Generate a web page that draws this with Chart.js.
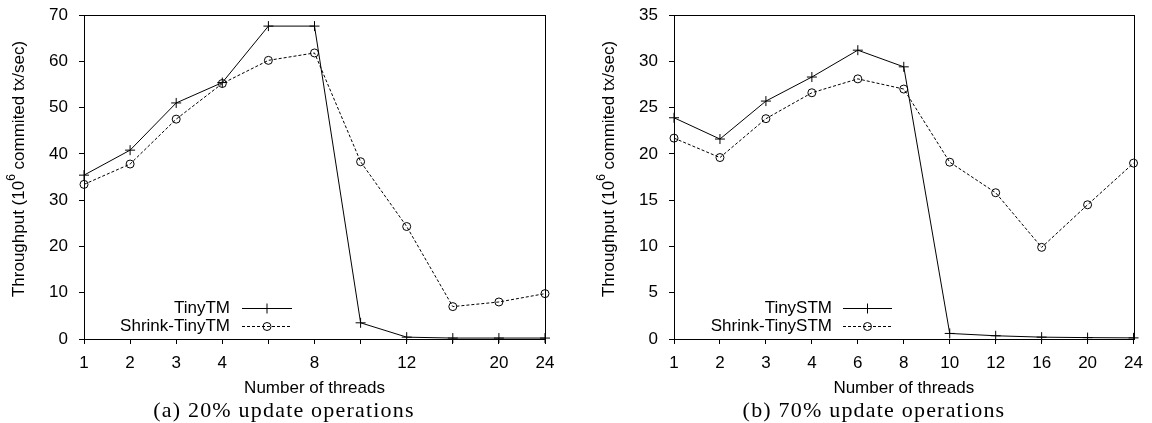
<!DOCTYPE html>
<html>
<head>
<meta charset="utf-8">
<script src="https://cdn.jsdelivr.net/npm/chart.js@4"></script>
<style>
  body { margin: 0; background: #fff; width: 1152px; height: 423px; overflow: hidden; position: relative; }
  canvas { position: absolute; top: 0; }
  .cap { position: absolute; top: 397px; font: 22px "Liberation Serif", serif; letter-spacing: 1.2px;
         transform: translateX(-50%); white-space: nowrap; color: #000; }
</style>
</head>
<body>
<canvas id="chartA" width="576" height="423" style="left:0"></canvas>
<canvas id="chartB" width="576" height="423" style="left:576px"></canvas>
<div class="cap" style="left:284px">(a) 20% update operations</div>
<div class="cap" style="left:874px">(b) 70% update operations</div>
<script>
// Data
const threads = ['1', '2', '3', '4', '6', '8', '10', '12', '16', '20', '24'];
const ticksA = ['1', '2', '3', '4', '', '8', '', '12', '', '20', '24'];
const ticksB = ['1', '2', '3', '4', '6', '8', '10', '12', '16', '20', '24'];

const tinyTM = [35.4, 40.8, 51.0, 55.4, 67.6, 67.6, 3.5, 0.4, 0.2, 0.2, 0.2];
const shrinkTinyTM = [33.4, 37.8, 47.5, 55.2, 60.2, 61.8, 38.3, 24.3, 7.0, 8.0, 9.8];
const tinySTM = [23.9, 21.6, 25.7, 28.3, 31.2, 29.4, 0.6, 0.35, 0.2, 0.15, 0.12];
const shrinkTinySTM = [21.7, 19.6, 23.8, 26.6, 28.1, 27.0, 19.1, 15.8, 9.9, 14.5, 19.0];

const SANS = '"Liberation Sans", Arial, sans-serif';

// box around the plot
const frame = {
    id: 'frame',
    afterDraw(chart) {
        const { ctx, chartArea: a } = chart;
        ctx.save();
        ctx.strokeStyle = '#000';
        ctx.lineWidth = 1;
        ctx.strokeRect(Math.round(a.left) + 0.5, Math.round(a.top) + 0.5,
            Math.round(a.right - a.left), Math.round(a.bottom - a.top));
        ctx.restore();
    }
};

// gnuplot style key: label right-aligned, then line sample with marker
const gnuKey = {
    id: 'gnuKey',
    afterDatasetsDraw(chart, args, opts) {
        const ctx = chart.ctx;
        chart.data.datasets.forEach((ds, i) => {
            const y = opts.y + i * 18;
            ctx.save();
            ctx.font = '17px ' + SANS;
            ctx.fillStyle = '#000';
            ctx.textAlign = 'right';
            ctx.textBaseline = 'middle';
            ctx.fillText(ds.label, opts.textRight, y);
            ctx.strokeStyle = ds.borderColor;
            ctx.lineWidth = ds.borderWidth;
            ctx.setLineDash(ds.borderDash || []);
            ctx.beginPath();
            ctx.moveTo(opts.x0, y + 0.5);
            ctx.lineTo(opts.x1, y + 0.5);
            ctx.stroke();
            ctx.setLineDash([]);
            ctx.fillStyle = 'rgba(0,0,0,0)';
            Chart.helpers.drawPoint(ctx, { pointStyle: ds.pointStyle, radius: ds.pointRadius, borderWidth: 1, rotation: 0 },
                (opts.x0 + opts.x1) / 2, y + 0.5);
            ctx.restore();
        });
    }
};

// axis titles (y one has a superscript)
const axisTitles = {
    id: 'axisTitles',
    afterDraw(chart, args, opts) {
        const { ctx, chartArea: a } = chart;
        ctx.save();
        ctx.fillStyle = '#000';
        ctx.textBaseline = 'middle';
        ctx.font = '17px ' + SANS;
        ctx.textAlign = 'center';
        ctx.fillText('Number of threads', (a.left + a.right) / 2, 388);

        ctx.translate(a.left - 65, 169);
        ctx.rotate(-Math.PI / 2);
        const p1 = 'Throughput (10', p2 = '6', p3 = ' commited tx/sec)';
        const mainFont = '17px ' + SANS, supFont = '12px ' + SANS;
        ctx.font = mainFont;
        const w1 = ctx.measureText(p1).width, w3 = ctx.measureText(p3).width;
        ctx.font = supFont;
        const w2 = ctx.measureText(p2).width;
        let x = -(w1 + w2 + w3) / 2;
        ctx.textAlign = 'left';
        ctx.font = mainFont;
        ctx.fillText(p1, x, 0);
        x += w1;
        ctx.font = supFont;
        ctx.fillText(p2, x, -7);
        x += w2;
        ctx.font = mainFont;
        ctx.fillText(p3, x, 0);
        ctx.restore();
    }
};

function makeChart(id, labels, tickLabels, series, names, yMax, yStep, leftW, padRight, key) {
    return new Chart(document.getElementById(id), {
        type: 'line',
        data: {
            labels: labels,
            datasets: [
                { label: names[0], data: series[0], borderColor: '#000', borderWidth: 1,
                  pointStyle: 'cross', pointRadius: 5, pointBorderWidth: 1, pointBorderColor: '#000',
                  pointBackgroundColor: 'rgba(0,0,0,0)', tension: 0, clip: false },
                { label: names[1], data: series[1], borderColor: '#000', borderWidth: 1, borderDash: [3, 2],
                  pointStyle: 'circle', pointRadius: 4, pointBorderWidth: 1, pointBorderColor: '#000',
                  pointBackgroundColor: 'rgba(0,0,0,0)', tension: 0, clip: false }
            ]
        },
        options: {
            responsive: false,
            animation: false,
            layout: { padding: { top: 15, right: padRight, left: 0, bottom: 0 } },
            plugins: {
                legend: { display: false },
                tooltip: { enabled: false },
                gnuKey: key
            },
            scales: {
                x: {
                    offset: false,
                    afterFit: s => { s.height = 84; },
                    grid: { display: true, drawOnChartArea: false, drawTicks: true, tickLength: 5, color: '#000' },
                    border: { display: true, color: '#000', width: 1 },
                    ticks: { color: '#000', font: { family: SANS, size: 17 }, padding: 9, maxRotation: 0, autoSkip: false,
                             callback: (v, i) => tickLabels[i] }
                },
                y: {
                    min: 0, max: yMax,
                    // fixed width, and no extra top/bottom room for the labels
                    afterFit: s => { s.width = leftW; s.paddingTop = 0; s.paddingBottom = 0; },
                    grid: { display: true, drawOnChartArea: false, drawTicks: true, tickLength: 5, color: '#000' },
                    border: { display: true, color: '#000', width: 1 },
                    ticks: { stepSize: yStep, color: '#000', font: { family: SANS, size: 17 }, padding: 11 }
                }
            }
        },
        plugins: [frame, gnuKey, axisTitles]
    });
}

makeChart('chartA', threads, ticksA, [tinyTM, shrinkTinyTM], ['TinyTM', 'Shrink-TinyTM'],
    70, 10, 84, 31, { y: 308, textRight: 230, x0: 242, x1: 292 });
makeChart('chartB', threads, ticksB, [tinySTM, shrinkTinySTM], ['TinySTM', 'Shrink-TinySTM'],
    35, 5, 98, 16, { y: 308, textRight: 256, x0: 267, x1: 316 });
</script>
</body>
</html>
